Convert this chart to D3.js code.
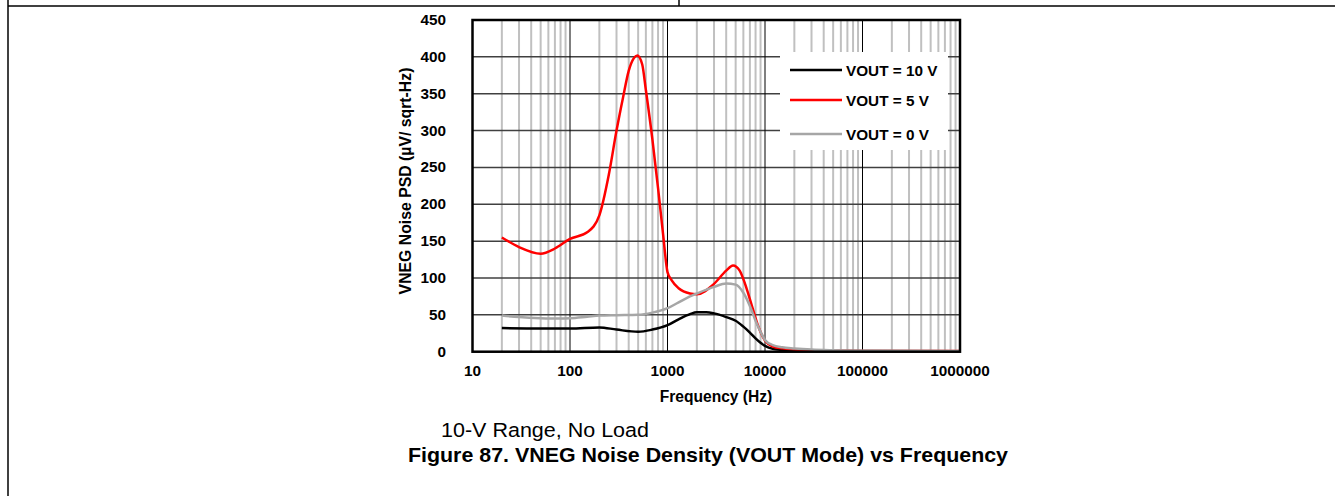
<!DOCTYPE html>
<html><head><meta charset="utf-8">
<script src="https://cdn.jsdelivr.net/npm/d3@7"></script>
<style>body{margin:0;background:#fff}svg{display:block}text{font-family:"Liberation Sans",Arial,sans-serif}</style>
</head><body>
<script>
const xTicks = [10,100,1000,10000,100000,1000000];
const yTicks = [0,50,100,150,200,250,300,350,400,450];
const seriesNames = ["VOUT = 10 V","VOUT = 5 V","VOUT = 0 V"];
const seriesColors = ["#000000","#ff0000","#a6a6a6"];
const freq10 = [20,50,100,200,300,500,700,1000,1300,1700,2000,2500,3000,4000,5000,6000,7000,8000,9000,10000,12000,15000,20000,50000,100000,1000000];
const v10 =    [32,31.5,31.5,33,30,27,30,36,44,51,53.5,53.5,52,47,42,34,26,18,12,8,4,2.5,1.5,1,0.8,0.6];
const freq5 = [20,30,50,70,100,150,200,250,300,350,400,450,490,550,600,700,800,900,1000,1100,1300,1700,2000,3000,4000,4700,5500,6500,7500,8500,10000,12000,15000,20000,30000,50000,100000,1000000];
const v5 =    [155,142,133,140,153,162,185,240,300,345,381,398,402,390,355,288,222,160,108,97,86,79,78,92,110,117,110,85,58,35,15,7,4.5,3,2,1.5,1,0.8];
const freq0 = [20,30,50,75,100,150,200,300,500,700,1000,1300,1700,2000,3000,4000,5000,6000,7000,8000,9000,10000,12000,15000,20000,30000,50000,100000,1000000];
const v0 =    [49,47,45.5,45,45.5,47.5,49,49.5,50,53,59,67,75,79,88,92.5,91,80,62,42,27,16,9,6,4.5,3,2,1.2,0.8];

const W=1335,H=496;
const svg=d3.select("body").append("svg").attr("width",W).attr("height",H);
// page frame
svg.append("line").attr("x1",8).attr("x2",8).attr("y1",0).attr("y2",H).attr("stroke","#000").attr("stroke-width",1.5);
svg.append("line").attr("x1",8).attr("x2",W).attr("y1",6).attr("y2",6).attr("stroke","#000").attr("stroke-width",1.5);
svg.append("line").attr("x1",679).attr("x2",679).attr("y1",0).attr("y2",6).attr("stroke","#000").attr("stroke-width",1.5);

const L=472.5,R=960,T=20,B=351.7;
const x=d3.scaleLog().domain([10,1000000]).range([L,R]);
const y=d3.scaleLinear().domain([0,450]).range([B,T]);
const g=svg.append("g");
// minor vertical grid
const minor=[];
for(let d=10;d<1000000;d*=10){for(let k=2;k<=9;k++)minor.push(d*k);}
g.selectAll(".mn").data(minor).enter().append("line")
 .attr("x1",d=>x(d)).attr("x2",d=>x(d)).attr("y1",T).attr("y2",B)
 .attr("stroke","#c0c0c0").attr("stroke-width",2);
// horizontal grid
g.selectAll(".hg").data(yTicks).enter().append("line")
 .attr("x1",L).attr("x2",R).attr("y1",d=>y(d)).attr("y2",d=>y(d))
 .attr("stroke","#404040").attr("stroke-width",1.5);
// major vertical grid
g.selectAll(".mj").data(xTicks).enter().append("line")
 .attr("x1",d=>x(d)).attr("x2",d=>x(d)).attr("y1",T).attr("y2",B)
 .attr("stroke","#000").attr("stroke-width",1);
// legend box background
const lg=svg.append("g");
lg.append("rect").attr("x",780).attr("y",52).attr("width",168).attr("height",98).attr("fill","#fff");
// curves
const line=d3.line().x(d=>x(d[0])).y(d=>y(d[1])).curve(d3.curveMonotoneX);
const data=[d3.zip(freq10,v10),d3.zip(freq5,v5),d3.zip(freq0,v0)];
g.selectAll(".crv").data(data).enter().append("path")
 .attr("d",line).attr("fill","none").attr("stroke",(d,i)=>seriesColors[i]).attr("stroke-width",2.5);
// border
svg.append("rect").attr("x",L).attr("y",T).attr("width",R-L).attr("height",B-T)
 .attr("fill","none").attr("stroke","#000").attr("stroke-width",2.5);
// axes labels
const fmt=d3.format("d");
svg.selectAll(".yt").data(yTicks).enter().append("text")
 .attr("x",446).attr("y",d=>y(d)+5).attr("text-anchor","end")
 .attr("font-size",15.3).attr("font-weight","bold").text(d=>fmt(d));
svg.selectAll(".xt").data(xTicks).enter().append("text")
 .attr("x",d=>x(d)).attr("y",376).attr("text-anchor","middle")
 .attr("font-size",15.3).attr("font-weight","bold").text(d=>fmt(d));
svg.append("text").attr("x",716).attr("y",402).attr("text-anchor","middle")
 .attr("font-size",15.6).attr("font-weight","bold").text("Frequency (Hz)");
svg.append("text").attr("transform","translate(411,181) rotate(-90)").attr("text-anchor","middle")
 .attr("font-size",15.8).attr("font-weight","bold").text("VNEG Noise PSD (µV/ sqrt-Hz)");
// legend entries
const ly=[70,100,134];
seriesNames.forEach((n,i)=>{
 lg.append("line").attr("x1",790).attr("x2",842).attr("y1",ly[i]).attr("y2",ly[i]).attr("stroke",seriesColors[i]).attr("stroke-width",2.5);
 lg.append("text").attr("x",846).attr("y",ly[i]+5.5).attr("font-size",15.3).attr("font-weight","bold").text(n);
});
// captions
svg.append("text").attr("x",441).attr("y",437).attr("font-size",20.5).attr("textLength",208).attr("lengthAdjust","spacingAndGlyphs").text("10-V Range, No Load");
svg.append("text").attr("x",408).attr("y",462).attr("font-size",20.5).attr("font-weight","bold").attr("textLength",600).attr("lengthAdjust","spacingAndGlyphs").text("Figure 87. VNEG Noise Density (VOUT Mode) vs Frequency");
</script>
</body></html>
